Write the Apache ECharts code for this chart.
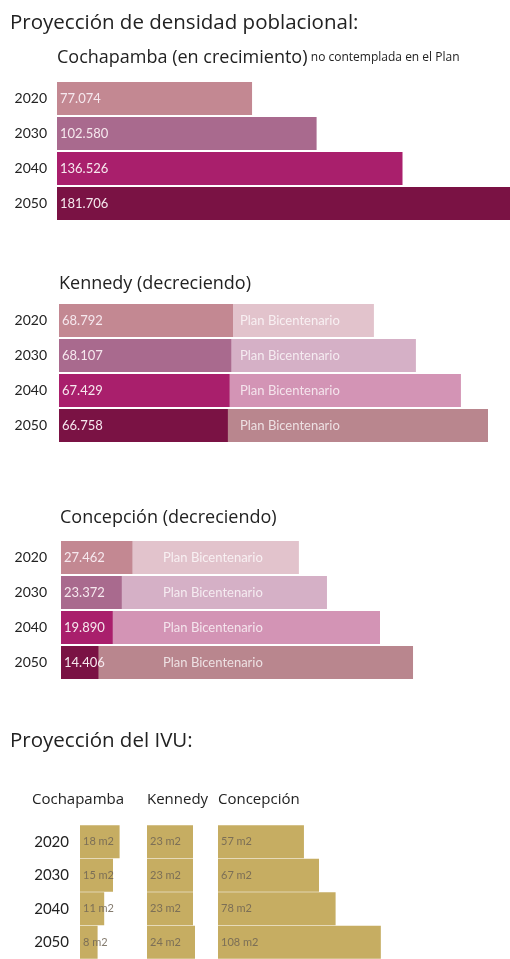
<!DOCTYPE html>
<html>
<head>
<meta charset="utf-8">
<script src="https://cdn.jsdelivr.net/npm/echarts@6/dist/echarts.min.js"></script>
<style>
  html, body { margin: 0; padding: 0; background: #fff; }
  #chart { width: 510px; height: 959px; }
</style>
</head>
<body>
<div id="chart"></div>
<script>
// años
const years = ['2020', '2030', '2040', '2050'];

// densidad poblacional (habitantes)
const cochapamba = [77074, 102580, 136526, 181706];
const kennedy = [68792, 68107, 67429, 66758];
const kennedyPlan = [124500, 141100, 158900, 169600];
const concepcion = [27462, 23372, 19890, 14406];
const concepcionPlan = [91500, 102300, 122700, 135400];

// IVU (m2)
const ivuCochapamba = [18, 15, 11, 8];
const ivuKennedy = [23, 23, 23, 24];
const ivuConcepcion = [57, 67, 78, 108];

// colores
const barColors = ['#c38892', '#a96a8e', '#a91f6c', '#7a1244'];
const planColors = ['#e2c3cc', '#d5b0c6', '#d394b5', '#b9868e'];
const gold = '#c6ad62';
const FONT = 'Lato, "Noto Sans", sans-serif';
const TITLE_FONT = '"Open Sans", "Noto Sans", sans-serif';

const fmt = v => String(v).replace(/\B(?=(\d{3})+(?!\d))/g, '.');

const chart = echarts.init(document.getElementById('chart'));

// grids: [left, top, width, max, labelMargin, showYears]
const grids = [
  [57, 81, 453, 179000, 10, true],
  [59, 303, 451, 178300, 12, true],
  [61, 540, 449, 172700, 14, true],
  [80, 825, 66, 30, 11, true],
  [147, 825, 60, 30, 0, false],
  [218, 825, 196, 130, 0, false]
];

const grid = grids.map(g => ({ left: g[0], top: g[1], width: g[2], height: 140 }));
const xAxis = grids.map((g, i) => ({
  type: 'value', gridIndex: i, min: 0, max: g[3], show: false
}));
const yAxis = grids.map((g, i) => ({
  type: 'category', gridIndex: i, data: years, inverse: true,
  axisLine: { show: false }, axisTick: { show: false },
  axisLabel: {
    show: g[5], margin: g[4], color: '#222',
    fontSize: i >= 3 ? 15 : 14, fontFamily: FONT
  }
}));

function valueBar(idx, values) {
  return {
    type: 'bar', xAxisIndex: idx, yAxisIndex: idx, barWidth: 33, barGap: '-100%',
    data: values.map((v, i) => ({ value: v, itemStyle: { color: barColors[i] } })),
    label: {
      show: true, position: 'insideLeft', distance: 3,
      color: '#f6e8ee', fontSize: 13, fontFamily: FONT,
      formatter: p => fmt(p.value)
    }
  };
}

function planBar(idx, values, offset) {
  return {
    type: 'bar', xAxisIndex: idx, yAxisIndex: idx, barWidth: 33, barGap: '-100%',
    data: values.map((v, i) => ({ value: v, itemStyle: { color: planColors[i] } })),
    label: {
      show: true, position: [offset, '50%'], verticalAlign: 'middle',
      color: 'rgba(255,255,255,0.75)', fontSize: 13, fontFamily: FONT,
      formatter: 'Plan Bicentenario'
    }
  };
}

function ivuBar(idx, values) {
  return {
    type: 'bar', xAxisIndex: idx, yAxisIndex: idx, barWidth: 33,
    data: values,
    itemStyle: { color: gold },
    label: {
      show: true, position: 'insideLeft', distance: 3,
      color: 'rgba(110,100,85,0.85)', fontSize: 11, fontFamily: FONT,
      formatter: '{c} m2'
    }
  };
}

function txt(text, x, y, size) {
  return {
    type: 'text', left: x, top: y - size * 0.45,
    style: { text: text, fontSize: size, fontFamily: TITLE_FONT, fill: '#222' }
  };
}

chart.setOption({
  animation: false,
  grid: grid,
  xAxis: xAxis,
  yAxis: yAxis,
  series: [
    valueBar(0, cochapamba),
    planBar(1, kennedyPlan, 181),
    valueBar(1, kennedy),
    planBar(2, concepcionPlan, 102),
    valueBar(2, concepcion),
    ivuBar(3, ivuCochapamba),
    ivuBar(4, ivuKennedy),
    ivuBar(5, ivuConcepcion)
  ],
  graphic: [
    txt('Proyección de densidad poblacional:', 10, 22, 20.5),
    {
      type: 'text', left: 57, top: 49,
      style: {
        text: '{a|Cochapamba (en crecimiento)} {b|no contemplada en el Plan}',
        rich: {
          a: { fontSize: 18, fontFamily: TITLE_FONT, fill: '#222', color: '#222' },
          b: { fontSize: 12, fontFamily: TITLE_FONT, fill: '#222', color: '#222' }
        }
      }
    },
    txt('Kennedy (decreciendo)', 59, 283, 18),
    txt('Concepción (decreciendo)', 60, 517, 18),
    txt('Proyección del IVU:', 10, 740, 20.5),
    txt('Cochapamba', 32, 799, 15),
    txt('Kennedy', 147, 799, 15),
    txt('Concepción', 218, 799, 15)
  ]
});
</script>
</body>
</html>
